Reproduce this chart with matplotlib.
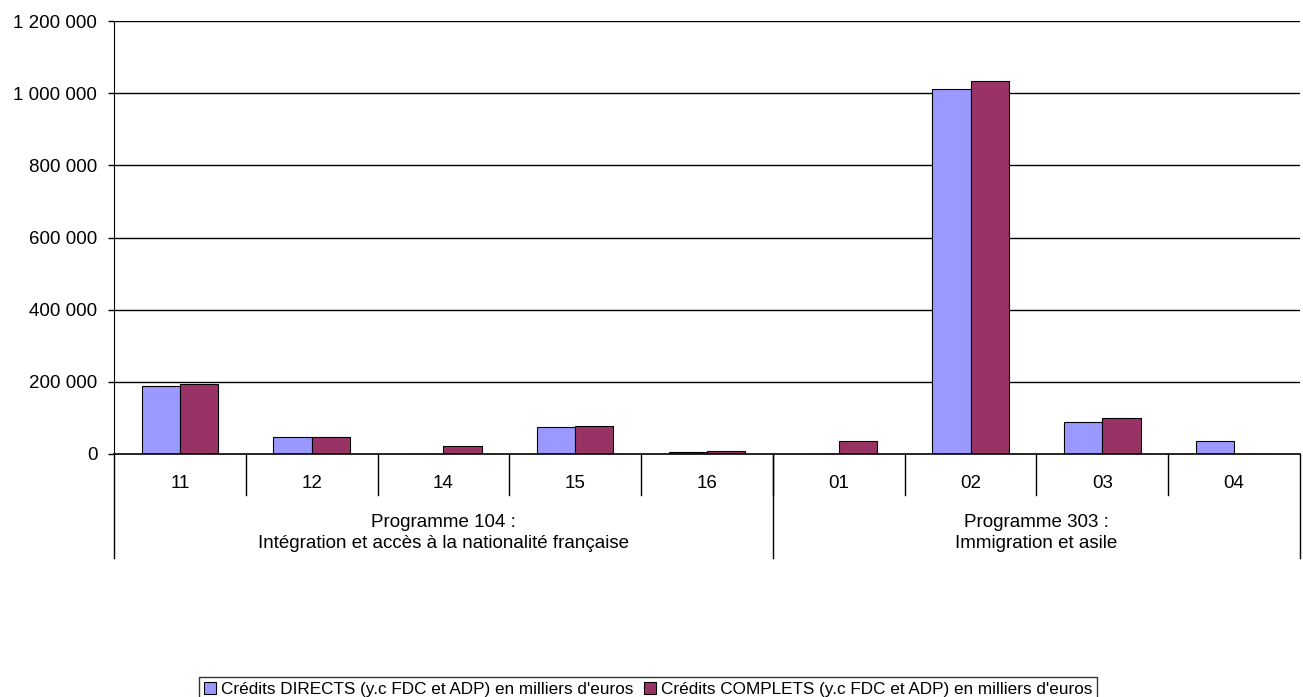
import matplotlib
matplotlib.use("Agg")
import matplotlib.pyplot as plt
from matplotlib.patches import Patch
from matplotlib.ticker import FuncFormatter
import numpy as np

plt.rcParams['font.family'] = ['Liberation Sans', 'DejaVu Sans']

categories = ["11", "12", "14", "15", "16", "01", "02", "03", "04"]
groups = ["Programme 104 :\nIntégration et accès à la nationalité française",
          "Programme 303 :\nImmigration et asile"]
group_sizes = [5, 4]
directs = [188000, 46000, 0, 74000, 5000, 0, 1011000, 89000, 37000]
complets = [193000, 47000, 22000, 78000, 8000, 37000, 1034000, 99000, 0]
series_names = ["Crédits DIRECTS (y.c FDC et ADP) en milliers d'euros",
                "Crédits COMPLETS (y.c FDC et ADP) en milliers d'euros"]
colors = ["#9999FF", "#993366"]

W, H = 1303, 697
fig = plt.figure(figsize=(W / 100, H / 100), dpi=100)
ax = fig.add_axes([114 / W, 1 - 454 / H, (1300 - 114) / W, (454 - 21) / H])

x = np.arange(len(categories))
bw = 0.29
ax.bar(x - bw / 2, directs, bw, color=colors[0], edgecolor="black", linewidth=0.8, zorder=3)
ax.bar(x + bw / 2, complets, bw, color=colors[1], edgecolor="black", linewidth=0.8, zorder=3)

FS = 13.5
ax.set_xlim(-0.5, len(categories) - 0.5)
ax.set_ylim(0, 1200000)
ax.set_yticks(np.arange(0, 1200001, 200000))
ax.yaxis.set_major_formatter(FuncFormatter(lambda v, p: f"{int(v):,}".replace(",", " ")))
ax.tick_params(axis="y", length=4, width=1, labelsize=FS, pad=8, colors="black")
ax.set_xticks([])
for v in np.arange(200000, 1200001, 200000):
    ax.axhline(v, color="black", linewidth=1, zorder=1)
for s in ["top", "right", "bottom"]:
    ax.spines[s].set_visible(False)
ax.spines["left"].set_bounds(0, 1200000)
ax.axhline(0, color="black", linewidth=1.2, zorder=4, clip_on=False)

tr = ax.get_xaxis_transform()
sep_y = -41 / 433
grp_y = -104 / 433
ax.plot([-0.5, -0.5], [0, grp_y], transform=tr, color="black", linewidth=1, clip_on=False)
ax.plot([len(categories) - 0.5] * 2, [0, grp_y], transform=tr, color="black", linewidth=1, clip_on=False)
for i, c in enumerate(categories):
    ax.text(i, -29 / 433, c, transform=tr, ha="center", va="center", fontsize=FS)
    if 0 < i:
        ax.plot([i - 0.5, i - 0.5], [0, sep_y], transform=tr, color="black", linewidth=1, clip_on=False)
start = 0
for g, n in zip(groups, group_sizes):
    if start > 0:
        ax.plot([start - 0.5, start - 0.5], [0, grp_y], transform=tr, color="black", linewidth=1, clip_on=False)
    ax.text(start + (n - 1) / 2, -79 / 433, g, transform=tr, ha="center", va="center",
            fontsize=FS, linespacing=1.38)
    start += n

handles = [Patch(facecolor=colors[0], edgecolor="black", linewidth=0.8),
           Patch(facecolor=colors[1], edgecolor="black", linewidth=0.8)]
leg = fig.legend(handles, series_names, loc="lower center", bbox_to_anchor=(648 / W, -5 / H),
                 ncol=2, fontsize=12.3, frameon=True, fancybox=False, edgecolor="black",
                 handlelength=0.7, handleheight=0.7, handletextpad=0.3, columnspacing=0.6,
                 borderpad=0.3, borderaxespad=0)
leg.get_frame().set_linewidth(1)

fig.savefig("out.png", dpi=100)
